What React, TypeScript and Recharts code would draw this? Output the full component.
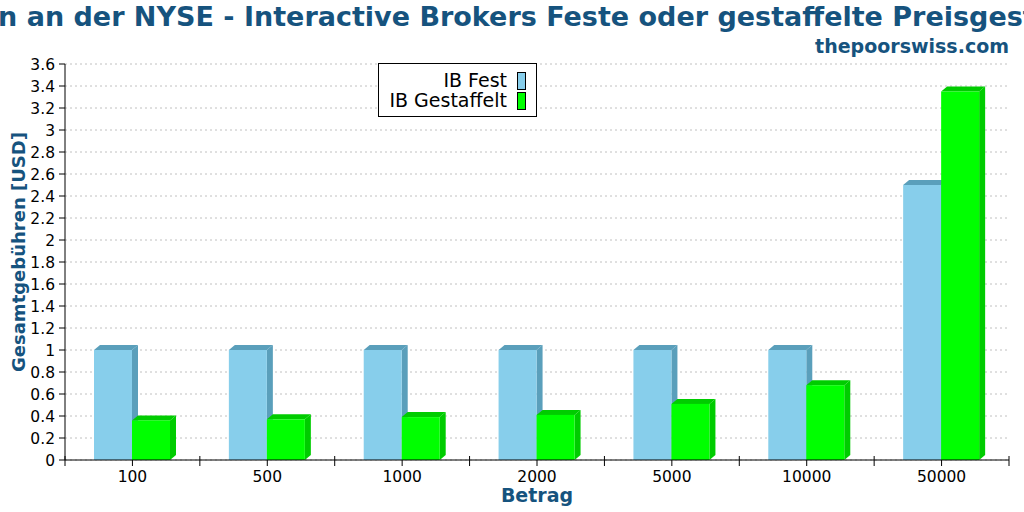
import React from 'react';
import { BarChart, Bar, XAxis, YAxis, CartesianGrid } from 'recharts';

const categories = ['100', '500', '1000', '2000', '5000', '10000', '50000'];
const ibFest = [1, 1, 1, 1, 1, 1, 2.5];
const ibGestaffelt = [0.36, 0.37, 0.39, 0.41, 0.51, 0.68, 3.35];
const yTicks = [0, 0.2, 0.4, 0.6, 0.8, 1, 1.2, 1.4, 1.6, 1.8, 2, 2.2, 2.4, 2.6, 2.8, 3, 3.2, 3.4, 3.6];
const seriesNames = ['IB Fest', 'IB Gestaffelt'];
const seriesColors = ['#87CEEB', '#00FF00'];
const seriesDark = ['#5A9FBB', '#00CC00'];

const TITLE = 'Gebühren an der NYSE - Interactive Brokers Feste oder gestaffelte Preisgestaltung';
const SUBTITLE = 'thepoorswiss.com';
const X_LABEL = 'Betrag';
const Y_LABEL = 'Gesamtgebühren [USD]';

const data = categories.map((c, i) => ({ cat: c, fest: ibFest[i], gest: ibGestaffelt[i] }));

const FONT = '"DejaVu Sans", sans-serif';
const TITLE_COLOR = '#16537e';

const DX = 6;
const DY = 5;

const make3D = (front: string, dark: string) => (props: any) => {
  const { x, y, width, height } = props;
  if (width == null || height == null || height <= 0) return <g />;
  const top = `${x},${y} ${x + DX},${y - DY} ${x + width + DX},${y - DY} ${x + width},${y}`;
  const side = `${x + width},${y} ${x + width + DX},${y - DY} ${x + width + DX},${y + height - DY} ${x + width},${y + height}`;
  return (
    <g>
      <polygon points={side} fill={dark} />
      <polygon points={top} fill={dark} />
      <rect x={x} y={y} width={width} height={height} fill={front} />
    </g>
  );
};

const XTick = (props: any) => {
  const { x, y, payload, index, visibleTicksCount } = props;
  const off = payload && payload.offset != null ? payload.offset : 0;
  const axisY = y - 8;
  const count = visibleTicksCount ?? categories.length;
  return (
    <g>
      <line x1={x - off} x2={x - off} y1={axisY - 4} y2={axisY + 6} stroke="#000" />
      {index === count - 1 ? (
        <line x1={x + off} x2={x + off} y1={axisY - 4} y2={axisY + 6} stroke="#000" />
      ) : null}
      <text x={x} y={y + 13.7} textAnchor="middle" fontSize={15.5} fontFamily={FONT} fill="#000">
        {payload.value}
      </text>
    </g>
  );
};

export default function App() {
  return (
    <div style={{ position: 'absolute', left: 0, top: 0, width: 1024, height: 512, background: '#fff', overflow: 'hidden' }}>
      <BarChart
        width={1024}
        height={512}
        data={data}
        margin={{ top: 64, right: 15, bottom: 0, left: 0 }}
        barGap={0}
      >
        <CartesianGrid vertical={false} stroke="#c0c0c0" strokeDasharray="2 3" />
        <XAxis
          dataKey="cat"
          height={52}
          axisLine={{ stroke: '#000' }}
          tickLine={{ stroke: '#000' }}
          tickSize={6}
          tickMargin={2}
          interval={0}
          tick={<XTick />}
        />
        <YAxis
          width={65}
          domain={[0, 3.6]}
          ticks={yTicks}
          interval={0}
          tickFormatter={(v: number) => String(v)}
          axisLine={{ stroke: '#000' }}
          tickLine={{ stroke: '#000' }}
          tickSize={6}
          tickMargin={4}
          tick={{ fontSize: 15.5, fill: '#000', fontFamily: FONT }}
        />
        <YAxis
          yAxisId="right"
          orientation="right"
          width={0}
          domain={[0, 3.6]}
          tick={false}
          tickLine={false}
          axisLine={{ stroke: '#000' }}
        />
        <Bar dataKey="fest" name={seriesNames[0]} fill={seriesColors[0]} barSize={38} isAnimationActive={false} shape={make3D(seriesColors[0], seriesDark[0])} />
        <Bar dataKey="gest" name={seriesNames[1]} fill={seriesColors[1]} barSize={38} isAnimationActive={false} shape={make3D(seriesColors[1], seriesDark[1])} />
      </BarChart>
      <svg width={1024} height={512} style={{ position: 'absolute', left: 0, top: 0, pointerEvents: 'none' }}>
        <text x={501} y={26} textAnchor="middle" fontSize={27} fontWeight="bold" fontFamily={FONT} fill={TITLE_COLOR}>{TITLE}</text>
        <text x={1009} y={53} textAnchor="end" fontSize={19} fontWeight="bold" fontFamily={FONT} fill={TITLE_COLOR}>{SUBTITLE}</text>
        <text x={537} y={502} textAnchor="middle" fontSize={19} fontWeight="bold" fontFamily={FONT} fill={TITLE_COLOR}>{X_LABEL}</text>
        <text x={25} y={252} textAnchor="middle" fontSize={18} fontWeight="bold" fontFamily={FONT} fill={TITLE_COLOR} transform="rotate(-90 25 252)">{Y_LABEL}</text>
        <g transform="translate(378,63)">
          <rect x={0.5} y={0.5} width={158} height={53} fill="#fff" stroke="#000" />
          <text x={129} y={24.3} textAnchor="end" fontSize={19} fontFamily={FONT} fill="#000">{seriesNames[0]}</text>
          <rect x={139.5} y={9.5} width={8} height={17} fill={seriesColors[0]} stroke="#000" />
          <text x={129} y={44.3} textAnchor="end" fontSize={19} fontFamily={FONT} fill="#000">{seriesNames[1]}</text>
          <rect x={139.5} y={29.5} width={8} height={17} fill={seriesColors[1]} stroke="#000" />
        </g>
      </svg>
    </div>
  );
}
